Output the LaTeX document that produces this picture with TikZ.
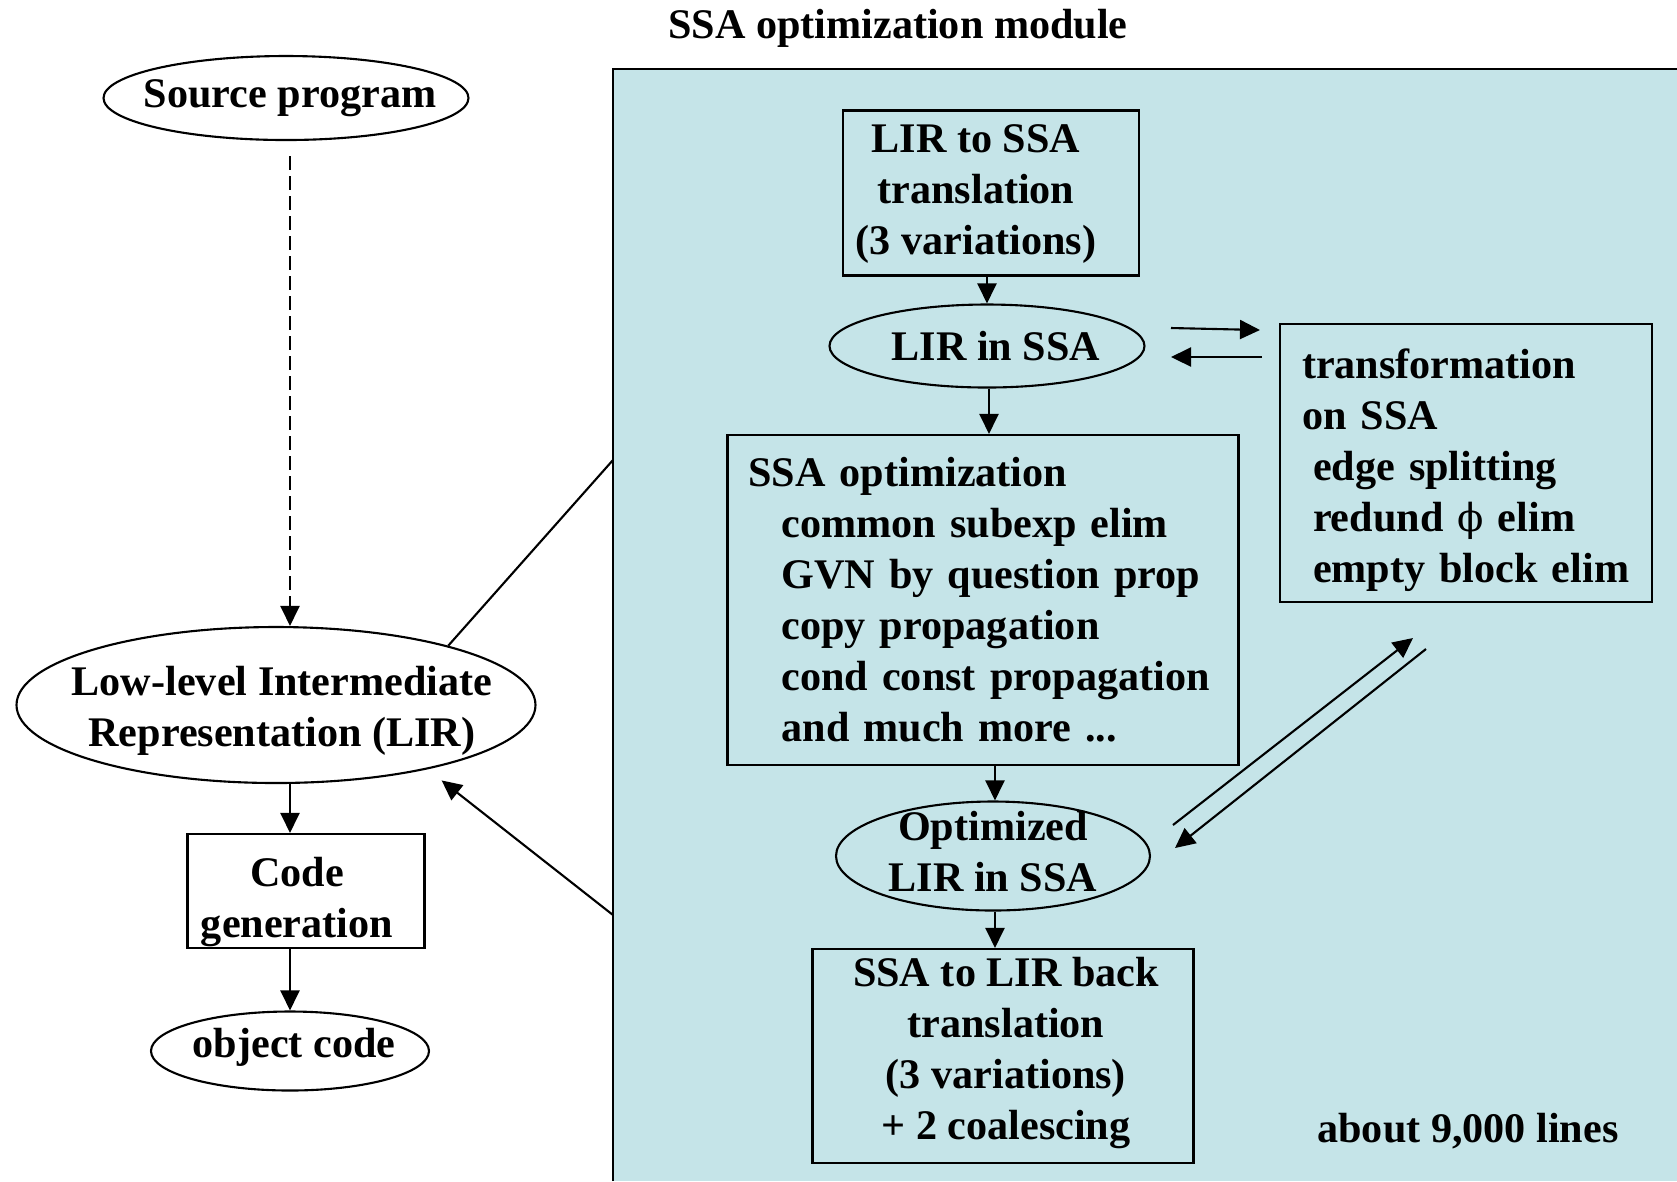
\documentclass[tikz,border=0pt]{standalone}
\usepackage{fontspec}
\setmainfont{Liberation Serif}
\newfontfamily\symf{DejaVu Serif}
\usetikzlibrary{arrows.meta,shapes.geometric,calc}
\definecolor{modbg}{RGB}{197,228,232}
\begin{document}
\begin{tikzpicture}[x=0.1mm,y=-0.1mm,
  every node/.style={font=\fontsize{12}{14.5}\selectfont\bfseries},
  box/.style={draw, line width=0.6pt, inner sep=0pt, align=center},
  ell/.style={draw, ellipse, line width=0.6pt, inner sep=0pt},
  arr/.style={line width=0.6pt, -{Triangle[length=2mm,width=1.9mm]}},
  ln/.style={line width=0.6pt}]
\useasboundingbox (0,0) rectangle (1677,1181);
\fill[modbg] (613,69) rectangle (1677,1181);
\draw[line width=0.8pt] (613,1181) -- (613,69) -- (1677,69);

\node (title) at (898,28) {SSA optimization module};

% left column
\node[ell, minimum width=36.5mm, minimum height=8.4mm] (src) at (286,98) {};
\node (srct) at (290,98) {Source program};
\node[ell, minimum width=51.9mm, minimum height=15.6mm] (lir) at (276,705) {};
\node[align=center] (lirt) at (282,711) {Low-level Intermediate\\Representation (LIR)};
\node[box, minimum width=23.7mm, minimum height=11.4mm] (code) at (306,891) {};
\node[align=center] (codet) at (297,902) {Code\\generation};
\node[ell, minimum width=27.8mm, minimum height=7.9mm] (obj) at (290,1051) {};
\node (objt) at (294,1047) {object code};

% module
\node[box, minimum width=29.6mm, minimum height=16.5mm] (l2s) at (991,193) {};
\node[align=center] (l2st) at (976,194) {LIR to SSA\\translation\\(3 variations)};
\node[ell, minimum width=31.5mm, minimum height=8.3mm] (lirssa) at (987,346) {};
\node (lirssat) at (996,346) {LIR in SSA};
\node[box, minimum width=51.1mm, minimum height=33mm, text width=46.9mm, inner xsep=2.1mm, align=left] (opt) at (983,600)
  {SSA optimization\\
   \hspace*{3.3mm}common subexp elim\\
   \hspace*{3.3mm}GVN by question prop\\
   \hspace*{3.3mm}copy propagation\\
   \hspace*{3.3mm}cond const propagation\\
   \hspace*{3.3mm}and much more ...};
\node[ell, minimum width=31.4mm, minimum height=10.9mm] (optlir) at (993,856) {};
\node[align=center] (optlirt) at (993,852) {Optimized\\LIR in SSA};
\node[box, minimum width=38.1mm, minimum height=21.4mm] (s2l) at (1003,1056) {};
\node[align=center] (s2lt) at (1006,1053) {SSA to LIR back\\translation\\(3 variations)\\+ 2 coalescing};
\node[box, minimum width=37.2mm, minimum height=27.8mm] (trans) at (1466,463) {};
\node[text width=32.8mm, inner xsep=0pt, align=left] (transt) at (1466,470)
  {transformation\\
   on SSA\\
   \hspace*{1.1mm}edge splitting\\
   \hspace*{1.1mm}redund {\symf\mdseries\fontsize{11}{14.5}\selectfont ϕ} elim\\
   \hspace*{1.1mm}empty block elim};
\node (about) at (1468,1131) {about 9,000 lines};

% helper coordinates
\coordinate (xl) at (290,0);
\coordinate (xa) at (987,0);
\coordinate (xb) at (989,0);
\coordinate (xc) at (995,0);
\coordinate (h1) at (1171,328);
\coordinate (h2) at (1260,330);
\coordinate (h3) at (1262,357);
\coordinate (h4) at (1171,357);
\coordinate (d1) at (1173,825);
\coordinate (d2) at (1413,638);
\coordinate (d3) at (1426,649);
\coordinate (d4) at (1175,848);
\coordinate (m1) at (613,460);
\coordinate (m2) at (613,915);

% connectors
\draw[arr, dash pattern=on 1.4mm off 0.6mm] ($(src.south -| xl)+(0,15)$) -- (lir.north -| xl);
\draw[arr] (lir.south -| xl) -- (code.north -| xl);
\draw[arr] (code.south -| xl) -- (obj.north -| xl);
\draw[arr] (l2s.south -| xa) -- (lirssa.north -| xa);
\draw[arr] (lirssa.south -| xb) -- (opt.north -| xb);
\draw[arr] (opt.south -| xc) -- (optlir.north -| xc);
\draw[arr] (optlir.south -| xc) -- (s2l.north -| xc);
\draw[arr] (h1) -- (h2);
\draw[arr] (h3) -- (h4);
\draw[arr] (d1) -- (d2);
\draw[arr] (d3) -- (d4);
\draw[ln] (lir.19) -- (m1);
\draw[arr, shorten >=1.8mm] (m2) -- (lir.-23);
\end{tikzpicture}
\end{document}
